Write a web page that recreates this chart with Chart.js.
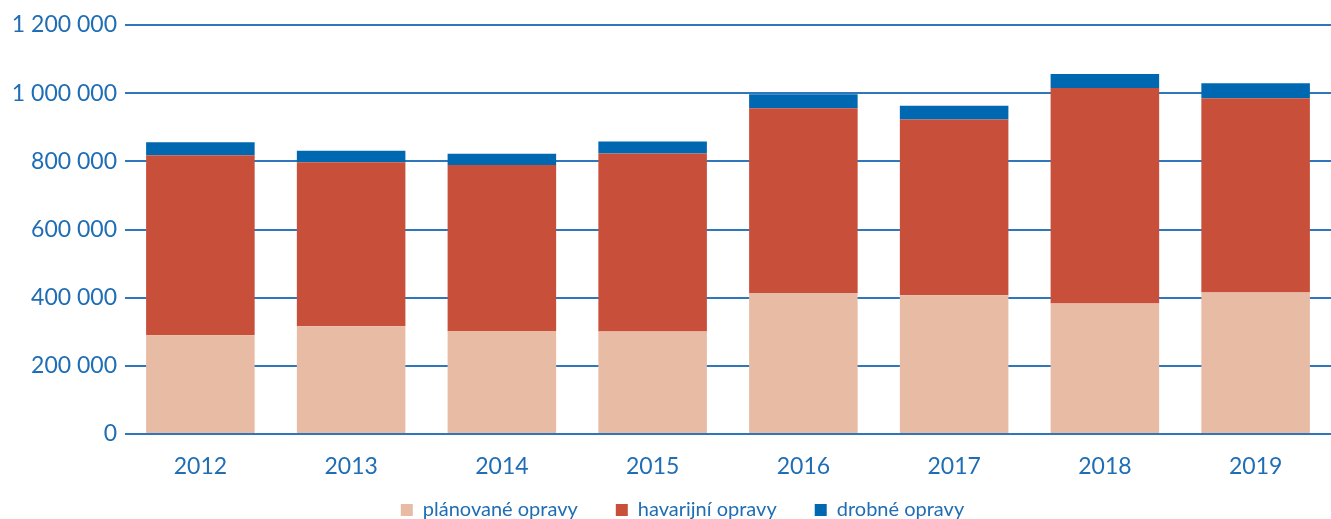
<!DOCTYPE html>
<html>
<head>
<meta charset="utf-8">
<script src="https://cdn.jsdelivr.net/npm/chart.js@4/dist/chart.umd.min.js"></script>
<style>
  html, body { margin: 0; padding: 0; background: #fff; }
  #wrap { width: 1331px; height: 519px; }
</style>
</head>
<body>
<div id="wrap"><canvas id="bars"></canvas></div>
<script>
const years = ['2012', '2013', '2014', '2015', '2016', '2017', '2018', '2019'];
const planovane = [290000, 316000, 302000, 301000, 414000, 407000, 383000, 415000];
const havarijni = [528000, 481000, 487000, 522000, 542000, 516000, 632000, 570000];
const drobne = [38000, 34000, 33000, 35000, 41000, 40000, 41000, 44000];
const seriesNames = ['plánované opravy', 'havarijní opravy', 'drobné opravy'];

const textBlue = '#1f6db4';
const gridBlue = '#2f77ba';

// 1 200 000 style numbers
function spaced(v) {
    return String(v).replace(/\B(?=(\d{3})+(?!\d))/g, ' ');
}

// legend uses wide gaps between items but must stay low on the page
const legendSlot = {
    id: 'legendSlot',
    beforeInit(chart) {
        const legend = chart.legend;
        const fit = legend.fit;
        legend.fit = function () {
            fit.call(this);
            this.height = 40;
        };
    },
    afterLayout(chart) {
        const legend = chart.legend;
        legend.top -= 17;
        legend.bottom = chart.height;
        legend.height = legend.bottom - legend.top;
        legend.left += 17;
        legend.right += 17;
    }
};

const ctx = document.getElementById('bars');
new Chart(ctx, {
    type: 'bar',
    data: {
        labels: years,
        datasets: [{
            label: seriesNames[0],
            data: planovane,
            backgroundColor: '#e8bba5'
        }, {
            label: seriesNames[1],
            data: havarijni,
            backgroundColor: '#c8503a'
        }, {
            label: seriesNames[2],
            data: drobne,
            backgroundColor: '#0068b1'
        }]
    },
    options: {
        responsive: true,
        maintainAspectRatio: false,
        animation: false,
        layout: { padding: { top: 25, right: 0, left: 0, bottom: 0 } },
        datasets: {
            bar: { categoryPercentage: 1, barPercentage: 0.72, borderWidth: 0 }
        },
        scales: {
            x: {
                stacked: true,
                grid: { display: false, drawTicks: false },
                border: { display: false },
                ticks: {
                    color: textBlue,
                    padding: 19,
                    font: { family: 'Lato', size: 23 }
                },
                afterFit(scale) { scale.height = 45; }
            },
            y: {
                stacked: true,
                min: 0,
                max: 1200000,
                grid: { color: gridBlue, lineWidth: 2, drawTicks: false },
                border: { display: false },
                ticks: {
                    stepSize: 200000,
                    color: textBlue,
                    padding: 8,
                    font: { family: 'Lato', size: 23 },
                    callback: v => spaced(v)
                },
                afterFit(scale) { scale.width = 125; }
            }
        },
        plugins: {
            tooltip: { enabled: false },
            legend: {
                position: 'bottom',
                labels: {
                    boxWidth: 12,
                    boxHeight: 12,
                    padding: 38,
                    color: textBlue,
                    font: { family: 'Lato', size: 20 }
                }
            }
        }
    },
    plugins: [legendSlot]
});
</script>
</body>
</html>
